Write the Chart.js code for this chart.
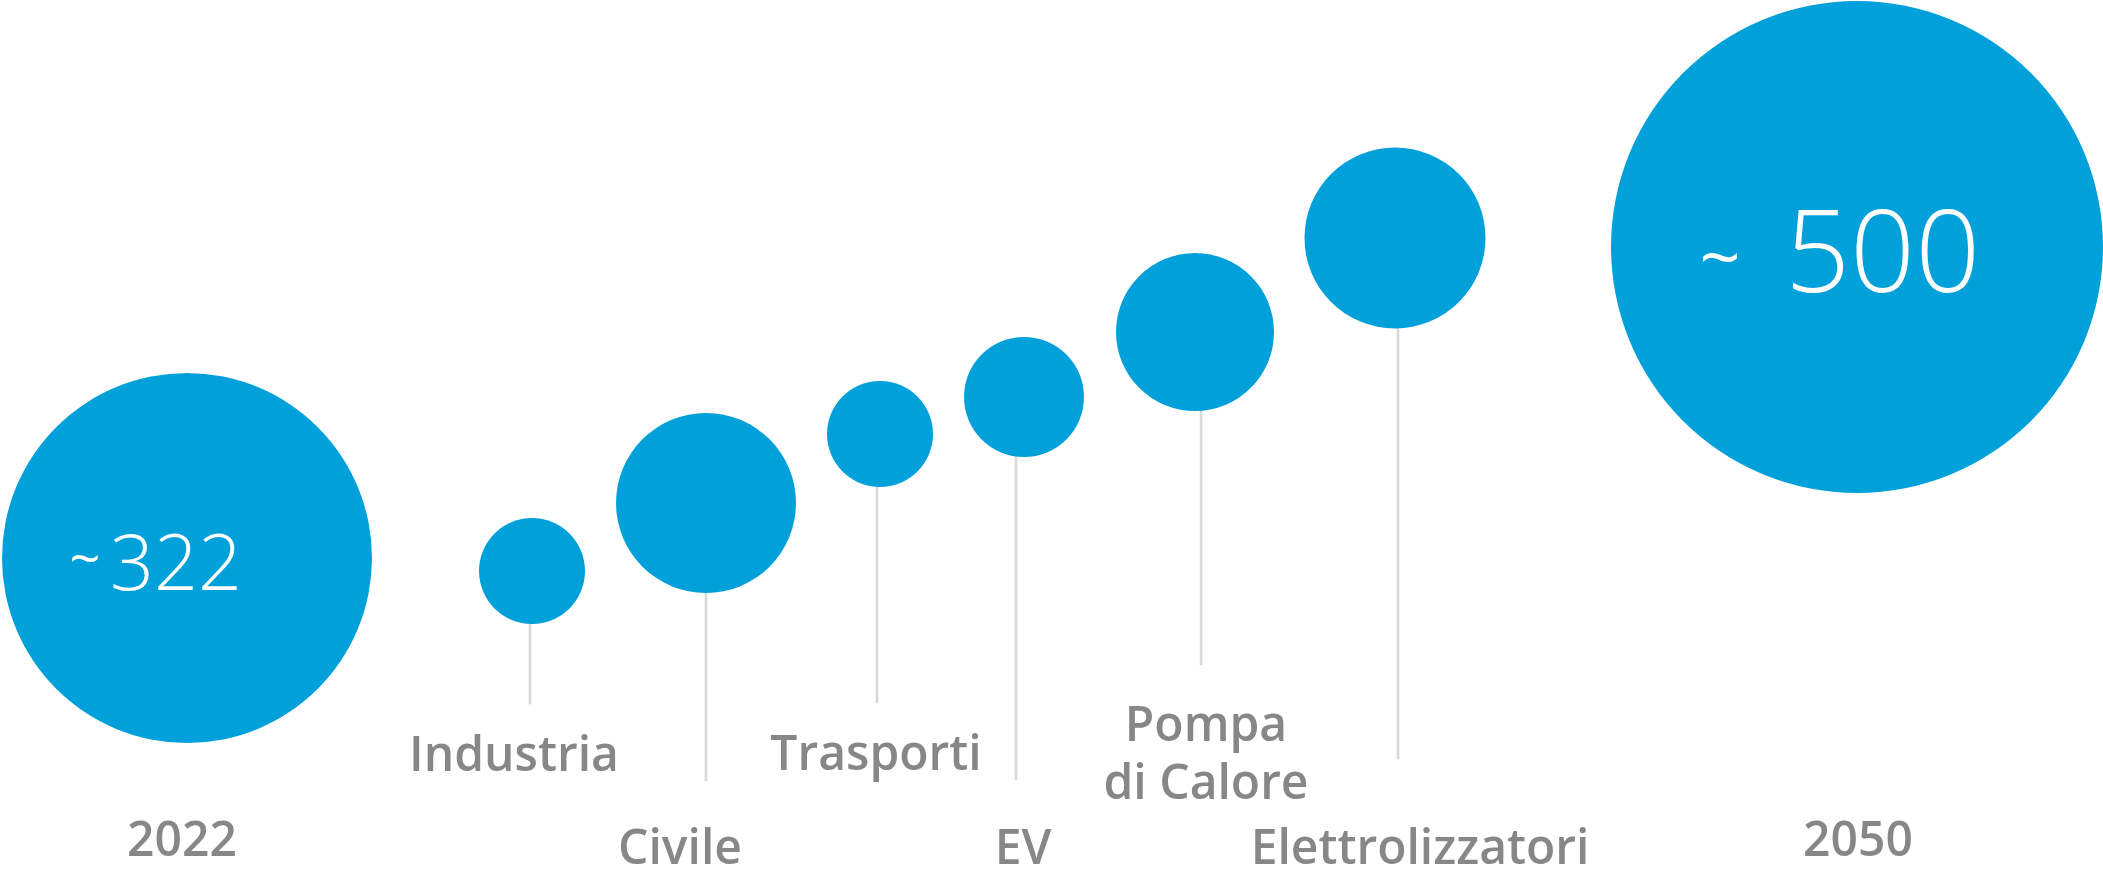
<!DOCTYPE html>
<html lang="it">
<head>
<meta charset="utf-8">
<title>Domanda elettrica 2022 - 2050</title>
<script src="https://cdn.jsdelivr.net/npm/chart.js@4.4.1/dist/chart.umd.min.js"></script>
<style>
    html, body { margin: 0; padding: 0; background: #fff; overflow: hidden; }
    #wrap { width: 2103px; height: 869px; }
</style>
</head>
<body>
<div id="wrap"><canvas id="bubbleChart" width="2103" height="869"></canvas></div>
<script>
// --- Data ---
const categories = ['2022', 'Industria', 'Civile', 'Trasporti', 'EV', ['Pompa', 'di Calore'], 'Elettrolizzatori', '2050'];
const xValues = [1.87, 5.32, 7.06, 8.80, 10.24, 11.95, 13.95, 18.57];
const yValues = [3.11, 2.98, 3.66, 4.35, 4.72, 5.37, 6.31, 6.22];
const bubbleSizes = [185, 53, 90, 53, 60, 79, 90.5, 246];
const totals = [322, 500];

// stems under the sector bubbles (null = no stem)
const stemX = [null, 5.30, 7.06, 8.77, 10.16, 12.01, 13.98, null];
const stemBottom = [null, 1.65, 0.88, 1.66, 0.89, 2.04, 1.10, null];

// --- Label layout ---
const labelDx = [-5, -18, -26, -4, -1, 11, 25, 1];
const labelBaseline = [856, 771, 864, 770, 864, 741, 864, 856];
const labelLineHeight = 58;

// totals: bubble index, digit start / baseline offsets, tilde offsets, font sizes
const totalLayout = [
    { idx: 0, dx: -77, dy: 32, size: 77, tildeDx: -102, tildeDy: 5, tildeSize: 54 },
    { idx: 7, dx: -72, dy: 45, size: 114, tildeDx: -137, tildeDy: 15, tildeSize: 72 }
];

const BLUE = '#00a1da';
const GREY = '#878787';

// sector names under the stems and the two totals inside the big bubbles
const labelPlugin = {
    id: 'sectorLabels',
    afterDatasetsDraw(chart) {
        const { ctx, scales: { x, y } } = chart;
        ctx.save();
        ctx.textAlign = 'center';
        ctx.textBaseline = 'alphabetic';

        ctx.fillStyle = GREY;
        ctx.font = '600 48px "Open Sans"';
        categories.forEach((cat, i) => {
            const cx = x.getPixelForValue(xValues[i]) + labelDx[i];
            const lines = Array.isArray(cat) ? cat : [cat];
            lines.forEach((line, j) => {
                ctx.fillText(line, cx, labelBaseline[i] + j * labelLineHeight);
            });
        });

        ctx.fillStyle = '#ffffff';
        totalLayout.forEach((t, k) => {
            const cx = x.getPixelForValue(xValues[t.idx]);
            const cy = y.getPixelForValue(yValues[t.idx]);
            ctx.textAlign = 'left';
            ctx.textBaseline = 'alphabetic';
            ctx.font = `300 ${t.size}px "Open Sans"`;
            ctx.fillText(String(totals[k]), cx + t.dx, cy + t.dy);
            ctx.textAlign = 'center';
            ctx.textBaseline = 'middle';
            ctx.font = `400 ${t.tildeSize}px "Open Sans"`;
            ctx.fillText('~', cx + t.tildeDx, cy + t.tildeDy);
        });
        ctx.restore();
    }
};

const bubbleData = xValues.map((xv, i) => ({ x: xv, y: yValues[i], r: bubbleSizes[i] }));
const stemData = [];
stemX.forEach((sx, i) => {
    if (sx !== null) {
        stemData.push({ x: sx, y: [stemBottom[i], yValues[i]] });
    }
});

function drawChart() {
    const ctx = document.getElementById('bubbleChart');
    new Chart(ctx, {
        type: 'bubble',
        data: {
            datasets: [
                {
                    type: 'bar',
                    data: stemData,
                    backgroundColor: '#d9d9d9',
                    borderWidth: 0,
                    barThickness: 2,
                    order: 2
                },
                {
                    type: 'bubble',
                    data: bubbleData,
                    backgroundColor: BLUE,
                    borderWidth: 0,
                    hoverRadius: 0,
                    clip: false,
                    order: 1
                }
            ]
        },
        options: {
            responsive: false,
            animation: false,
            events: [],
            layout: { padding: 0, autoPadding: false },
            plugins: {
                legend: { display: false },
                tooltip: { enabled: false }
            },
            scales: {
                x: { type: 'linear', min: 0, max: 21.03, offset: false, display: false },
                y: { type: 'linear', min: 0, max: 8.69, display: false }
            }
        },
        plugins: [labelPlugin]
    });
}

Promise.all([
    document.fonts.load('600 48px "Open Sans"'),
    document.fonts.load('300 78px "Open Sans"'),
    document.fonts.load('400 60px "Open Sans"')
]).catch(() => {}).then(drawChart);
</script>
</body>
</html>
